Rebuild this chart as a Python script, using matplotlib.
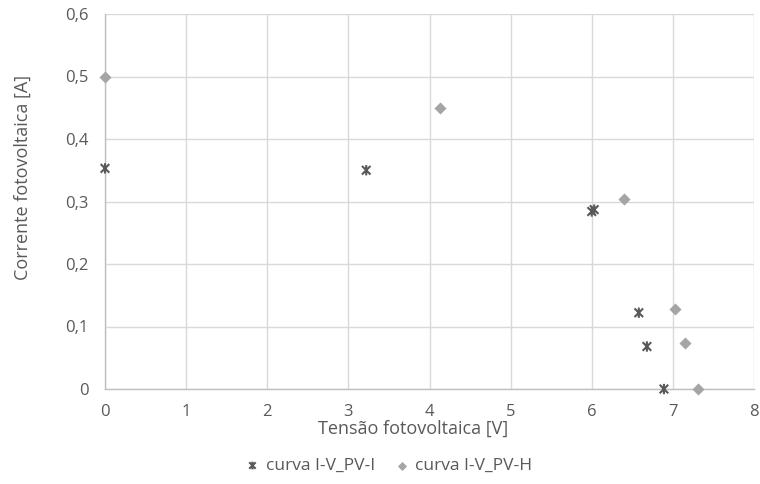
import matplotlib
matplotlib.use("Agg")
import matplotlib.pyplot as plt
from matplotlib.path import Path
from matplotlib.ticker import FuncFormatter

plt.rcParams['font.family'] = ['Open Sans', 'DejaVu Sans']

# Data
pv_i_v = [0.0, 3.22, 6.0, 6.03, 6.58, 6.68, 6.89]
pv_i_a = [0.353, 0.350, 0.284, 0.287, 0.122, 0.068, 0.0]
pv_h_v = [0.0, 4.13, 6.40, 7.03, 7.15, 7.31]
pv_h_a = [0.500, 0.450, 0.304, 0.128, 0.073, 0.0]
series_names = ["curva I-V_PV-I", "curva I-V_PV-H"]
x_label = "Tensão fotovoltaica [V]"
y_label = "Corrente fotovoltaica [A]"

star = Path([(-1, -1), (1, 1), (-1, 1), (1, -1), (0, -1.2), (0, 1.2)],
            [Path.MOVETO, Path.LINETO, Path.MOVETO, Path.LINETO, Path.MOVETO, Path.LINETO])

fig = plt.figure(figsize=(7.6, 4.84), dpi=100)
ax = fig.add_axes([105/760, 1-389/484, 649/760, 375/484])

text_col = "#595959"
ax.scatter(pv_i_v, pv_i_a, marker=star, s=55, facecolor='none', edgecolor="#595959",
           linewidths=1.5, label=series_names[0], zorder=3, clip_on=False)
ax.scatter(pv_h_v, pv_h_a, marker="D", s=38, color="#a5a5a5", linewidths=0,
           label=series_names[1], zorder=3, clip_on=False)

ax.set_xlim(0, 8)
ax.set_ylim(0, 0.6)
ax.set_xticks(range(0, 9))
ax.set_yticks([0, 0.1, 0.2, 0.3, 0.4, 0.5, 0.6])
ax.yaxis.set_major_formatter(FuncFormatter(lambda v, p: "0" if abs(v) < 1e-9 else f"{v:.1f}".replace(".", ",")))
ax.grid(True, color="#d9d9d9", linewidth=1)
ax.set_axisbelow(True)
for s in ["top", "right"]:
    ax.spines[s].set_visible(False)
for s in ["left", "bottom"]:
    ax.spines[s].set_color("#bfbfbf")
    ax.spines[s].set_linewidth(1)
ax.tick_params(length=0, labelsize=12, labelcolor=text_col)
ax.tick_params(axis='y', pad=12)
ax.tick_params(axis='x', pad=11)

ax.set_xlabel(x_label, fontsize=13, color=text_col)
ax.set_ylabel(y_label, fontsize=13, color=text_col)
ax.xaxis.set_label_coords(0.475, -0.083)
ax.yaxis.set_label_coords(-0.113, 0.563)

fig.legend(loc="center", bbox_to_anchor=(0.505, 1-466/484), ncol=2, frameon=False,
           fontsize=12.5, labelcolor=text_col, handletextpad=-0.2, columnspacing=0.5,
           markerscale=0.75)

fig.savefig("out.png", dpi=100)
